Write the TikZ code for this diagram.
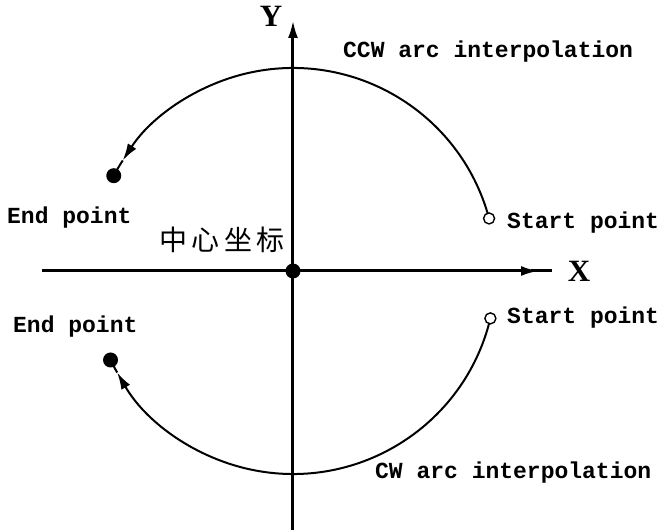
\documentclass[tikz,border=0pt]{standalone}
\usepackage{fontspec}
\setmonofont{Liberation Mono}
\newfontfamily\cjk[LetterSpace=15]{Noto Sans CJK SC}
\newfontfamily\axfont{Liberation Serif}
\usetikzlibrary{arrows.meta,positioning}
\definecolor{Ink}{HTML}{000000}
\tikzset{
  axis/.style={line width=3pt, draw=Ink},
  axisarr/.style={-{Latex[length=18pt,width=10pt]}, line width=3pt, draw=Ink},
  arcline/.style={line width=2pt, draw=Ink},
  arcarr/.style={-{Latex[length=17pt,width=10pt]}, line width=2pt, draw=Ink},
  lbl/.style={font=\ttfamily\bfseries\fontsize{23}{26}\selectfont, inner sep=0pt, anchor=west},
  axlbl/.style={font=\axfont\bfseries\fontsize{31}{34}\selectfont, inner sep=0pt},
  startpt/.style={circle, draw=Ink, line width=1.4pt, fill=white, minimum size=11pt, inner sep=0pt},
  endpt/.style={circle, fill=Ink, minimum size=15pt, inner sep=0pt}
}
\begin{document}
\begin{tikzpicture}[x=1pt,y=1pt]
\useasboundingbox (-293,-259) rectangle (369,271);
% axes
\coordinate (xl) at (-251,0);
\coordinate (xh) at (246,0);
\coordinate (xs) at (238,0);
\coordinate (xe) at (259,0);
\coordinate (yl) at (0,-259);
\coordinate (yh) at (0,251);
\draw[axis] (xs) -- (xe);
\draw[axisarr] (xl) -- (xh);
\draw[axisarr] (yl) -- (yh);
\node[axlbl] (X) at (286,0) {X};
\node[axlbl] (Y) at (-22,255) {Y};
% arcs
\coordinate (s1) at (15:203);
\coordinate (m1) at (147:203);
\coordinate (s2) at (-13.5:203);
\coordinate (m2) at (-150:203);
\draw[arcarr] (s1) arc[start angle=15, end angle=147, radius=203];
\draw[arcline] (m1) arc[start angle=147, end angle=152, radius=203];
\draw[arcarr] (s2) arc[start angle=-13.5, end angle=-150, radius=203];
\draw[arcline] (m2) arc[start angle=-150, end angle=-154, radius=203];
\node[startpt] (S1) at (s1) {};
\node[startpt] (S2) at (s2) {};
\node[endpt] (E1) at (152:203) {};
\node[endpt] (E2) at (-154:203) {};
\node[endpt] (O) at (0,0) {};
% labels
\node[font=\cjk\fontsize{28}{30}\selectfont, inner sep=0pt] (cn) at (-71,31) {中心坐标};
\node[lbl] (ccw) at (50,219) {CCW arc interpolation};
\node[lbl] (cw) at (82,-202) {CW arc interpolation};
\node[lbl] (e1) at (-286,53) {End point};
\node[lbl] (e2) at (-280,-56) {End point};
\node[lbl] (s1l) at (214,48) {Start point};
\node[lbl] (s2l) at (214,-47) {Start point};
\end{tikzpicture}
\end{document}
